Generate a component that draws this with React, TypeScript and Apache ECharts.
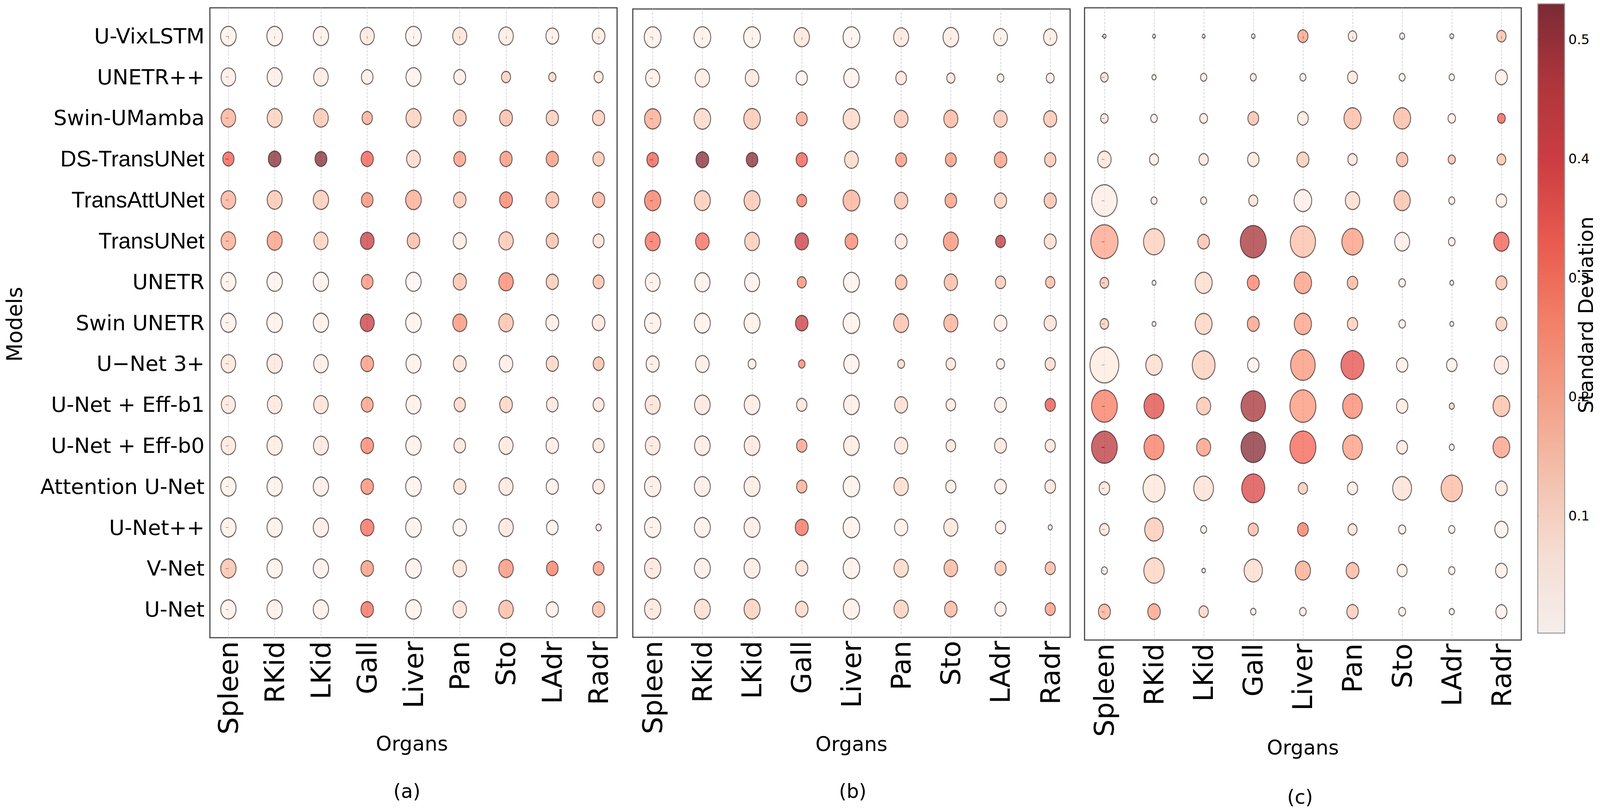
import React, { useEffect, useRef } from "react";
import * as echarts from "echarts";

// Models listed top-to-bottom as shown on the y axis
const MODELS = [
  "U-VixLSTM",
  "UNETR++",
  "Swin-UMamba",
  "DS-TransUNet",
  "TransAttUNet",
  "TransUNet",
  "UNETR",
  "Swin UNETR",
  "U\u2212Net 3+",
  "U-Net + Eff-b1",
  "U-Net + Eff-b0",
  "Attention U-Net",
  "U-Net++",
  "V-Net",
  "U-Net",
];
const ARIAL_LABELS = ["DS-TransUNet", "TransAttUNet", "TransUNet"];
const ORGANS = ["Spleen", "RKid", "LKid", "Gall", "Liver", "Pan", "Sto", "LAdr", "Radr"];
const PANEL_LABELS = ["(a)", "(b)", "(c)"];
const STD_TICKS = [0.1, 0.2, 0.3, 0.4, 0.5];
const STD_MIN = 0.0016;
const STD_MAX = 0.53;

// Panel (a): standard deviation (colour) and bubble magnitude (size)
const A_STD = [
  [0.03, 0.03, 0.03, 0.06, 0.02, 0.08, 0.05, 0.03, 0.05],
  [0.04, 0.04, 0.05, 0.03, 0.02, 0.04, 0.12, 0.1, 0.07],
  [0.18, 0.12, 0.14, 0.19, 0.12, 0.14, 0.16, 0.13, 0.13],
  [0.33, 0.52, 0.52, 0.33, 0.1, 0.22, 0.24, 0.23, 0.14],
  [0.18, 0.14, 0.13, 0.25, 0.19, 0.14, 0.27, 0.16, 0.18],
  [0.19, 0.22, 0.12, 0.42, 0.16, 0.05, 0.14, 0.15, 0.08],
  [0.03, 0.02, 0.02, 0.24, 0.01, 0.15, 0.26, 0.13, 0.15],
  [0.03, 0.03, 0.03, 0.42, 0.02, 0.24, 0.15, 0.04, 0.07],
  [0.07, 0.06, 0.04, 0.23, 0.03, 0.08, 0.04, 0.11, 0.15],
  [0.06, 0.06, 0.08, 0.22, 0.03, 0.1, 0.11, 0.06, 0.06],
  [0.06, 0.05, 0.06, 0.27, 0.03, 0.07, 0.06, 0.04, 0.07],
  [0.03, 0.03, 0.04, 0.25, 0.02, 0.08, 0.06, 0.03, 0.07],
  [0.03, 0.03, 0.04, 0.31, 0.02, 0.02, 0.06, 0.02, 0.03],
  [0.15, 0.03, 0.03, 0.23, 0.02, 0.08, 0.24, 0.28, 0.22],
  [0.03, 0.03, 0.03, 0.31, 0.02, 0.08, 0.16, 0.03, 0.16],
];
const A_SIZE = [
  [50, 50, 49, 45, 50, 45, 46.5, 41, 40.5],
  [46.5, 48, 46.5, 37, 48, 38, 29, 23, 29],
  [46.5, 48, 47, 33, 48, 41, 41, 39, 39],
  [36, 40.5, 38, 39, 44, 38, 39, 39, 36],
  [47, 48, 49, 37, 50, 40, 41, 41, 39],
  [46.5, 48, 45, 44, 40, 42, 46.5, 39, 35],
  [48, 49, 49, 37, 49, 42, 46.5, 39, 35],
  [49, 50, 49, 45, 50, 45, 46.5, 41, 40.5],
  [46.5, 49, 46.5, 40.5, 48, 41, 43, 39, 34.5],
  [45, 46.5, 46.5, 38, 48, 36, 40.5, 37, 35],
  [46.5, 49, 48, 40.5, 49, 37, 45, 40, 36],
  [49, 49, 49, 40, 50, 39, 45, 39, 37],
  [49, 49, 49, 43, 50, 43, 46.5, 37, 17],
  [49, 49, 49, 40, 50, 43, 46.5, 37, 34.5],
  [49, 49, 49, 40, 50, 43, 46.5, 39, 39],
];

// Panel (b)
const B_STD = [
  [0.03, 0.03, 0.03, 0.07, 0.02, 0.06, 0.05, 0.03, 0.05],
  [0.03, 0.05, 0.06, 0.02, 0.02, 0.07, 0.07, 0.03, 0.04],
  [0.19, 0.1, 0.14, 0.2, 0.1, 0.14, 0.17, 0.14, 0.14],
  [0.33, 0.52, 0.52, 0.33, 0.1, 0.23, 0.23, 0.22, 0.14],
  [0.28, 0.13, 0.14, 0.29, 0.18, 0.15, 0.22, 0.12, 0.15],
  [0.3, 0.31, 0.13, 0.42, 0.26, 0.06, 0.24, 0.45, 0.09],
  [0.03, 0.03, 0.02, 0.25, 0.02, 0.16, 0.16, 0.13, 0.16],
  [0.03, 0.03, 0.03, 0.42, 0.02, 0.15, 0.18, 0.04, 0.08],
  [0.04, 0.04, 0.04, 0.26, 0.02, 0.09, 0.07, 0.04, 0.09],
  [0.08, 0.06, 0.05, 0.07, 0.04, 0.09, 0.05, 0.04, 0.35],
  [0.06, 0.05, 0.06, 0.21, 0.05, 0.07, 0.06, 0.07, 0.07],
  [0.04, 0.04, 0.05, 0.19, 0.03, 0.09, 0.04, 0.04, 0.07],
  [0.03, 0.03, 0.04, 0.3, 0.02, 0.03, 0.07, 0.04, 0.03],
  [0.06, 0.04, 0.05, 0.08, 0.03, 0.1, 0.17, 0.15, 0.16],
  [0.07, 0.09, 0.12, 0.1, 0.03, 0.12, 0.17, 0.04, 0.22],
];
const B_SIZE = [
  [53.6, 53.6, 53.6, 49, 53.6, 48, 50, 44, 42.5],
  [45, 46, 43.5, 36, 49, 34, 26, 21, 25],
  [52, 53, 53, 35, 53, 44, 45, 42.5, 41.6],
  [37, 40.7, 37, 36, 44, 35, 35, 40, 36],
  [52, 51, 51, 31.4, 53.6, 42.5, 37, 39, 39],
  [48, 43.5, 47, 43.5, 40.7, 38, 48, 31.4, 38],
  [47, 49, 48, 28.7, 51, 37, 42.5, 32.4, 29.6],
  [52, 51, 51, 40, 53, 48, 45, 40.7, 39],
  [41.6, 43.5, 25, 21, 49, 22, 30.5, 26, 32.4],
  [48, 50, 50, 33, 50, 41.6, 30.5, 38, 33],
  [47, 50, 50, 33, 50, 42.5, 30.5, 38, 32.4],
  [52, 51, 51, 33, 53, 46, 32.4, 37, 34],
  [52, 51, 51, 41.6, 53, 42.5, 45, 32.4, 13],
  [52, 51, 51, 39, 53, 46, 43.5, 36, 32.4],
  [52, 51, 51, 40, 52, 46, 40, 36, 32.4],
];

// Panel (c)
const C_STD = [
  [0.02, 0.02, 0.02, 0.02, 0.21, 0.06, 0.02, 0.02, 0.15],
  [0.08, 0.02, 0.04, 0.06, 0.03, 0.06, 0.03, 0.03, 0.03],
  [0.06, 0.03, 0.05, 0.15, 0.05, 0.16, 0.16, 0.03, 0.33],
  [0.07, 0.04, 0.06, 0.06, 0.13, 0.07, 0.17, 0.15, 0.14],
  [0.04, 0.04, 0.04, 0.08, 0.04, 0.09, 0.15, 0.03, 0.03],
  [0.2, 0.12, 0.15, 0.48, 0.15, 0.22, 0.04, 0.03, 0.33],
  [0.14, 0.02, 0.09, 0.27, 0.22, 0.17, 0.03, 0.02, 0.15],
  [0.12, 0.02, 0.11, 0.21, 0.21, 0.12, 0.03, 0.02, 0.12],
  [0.05, 0.09, 0.12, 0.02, 0.23, 0.36, 0.03, 0.03, 0.06],
  [0.28, 0.37, 0.14, 0.48, 0.23, 0.26, 0.05, 0.1, 0.15],
  [0.45, 0.28, 0.22, 0.52, 0.32, 0.22, 0.05, 0.03, 0.21],
  [0.06, 0.07, 0.08, 0.38, 0.13, 0.04, 0.08, 0.16, 0.06],
  [0.07, 0.13, 0.02, 0.16, 0.28, 0.08, 0.03, 0.02, 0.02],
  [0.02, 0.11, 0.02, 0.09, 0.19, 0.17, 0.03, 0.02, 0.03],
  [0.18, 0.21, 0.11, 0.03, 0.03, 0.13, 0.02, 0.02, 0.03],
];
const C_SIZE = [
  [10.5, 9.6, 9.6, 11.5, 32.5, 27, 16, 12.4, 29.6],
  [24, 13.4, 20, 19, 19, 31.6, 19, 17, 38],
  [24, 21, 25, 34.4, 34.4, 54.5, 54.5, 24, 25],
  [43, 28.7, 29.7, 36.4, 38.3, 29.7, 36.4, 23, 27.7],
  [81.3, 19, 19, 28.7, 56.4, 46, 51.7, 19, 33.5],
  [87, 67, 37.3, 83, 80.4, 68, 47.8, 21, 48.8],
  [27.7, 12.4, 54.5, 38.3, 55.5, 33.5, 21, 12.4, 35.4],
  [27, 12.4, 54, 38, 55, 33, 21, 12.4, 35],
  [92, 52.6, 72.7, 36.4, 78.4, 73.7, 36.4, 33.5, 46],
  [82.3, 64, 45, 78.4, 83, 63, 36.4, 16, 53.6],
  [82.3, 64, 45, 78.4, 83, 63, 34.4, 16, 53.6],
  [33.5, 70, 63, 73.7, 29.7, 32.5, 60.3, 68, 37.3],
  [30.6, 59.3, 19, 32.5, 34.4, 28.7, 23, 20, 42],
  [19, 65, 11.5, 58.4, 48.8, 41, 31.6, 20, 37.3],
  [38.3, 40, 29.7, 17, 21, 36.4, 22, 16, 35.4],
];

const PANEL_STD = [A_STD, B_STD, C_STD];
const PANEL_SIZE = [A_SIZE, B_SIZE, C_SIZE];

// matplotlib "Reds" with alpha 0.8
const REDS = [
  "rgba(255,245,240,0.8)",
  "rgba(254,224,210,0.8)",
  "rgba(252,187,161,0.8)",
  "rgba(252,146,114,0.8)",
  "rgba(251,106,74,0.8)",
  "rgba(239,59,44,0.8)",
  "rgba(203,24,29,0.8)",
  "rgba(165,15,21,0.8)",
  "rgba(103,0,13,0.8)",
];

const FONT = "DejaVu Sans";
const REF_W = 5100;
const REF_H = 2073;

export default function App() {
  const ref = useRef<HTMLDivElement>(null);

  useEffect(() => {
    if (!ref.current) return;
    document.body.style.overflow = "hidden";
    const chart = echarts.init(ref.current, null, { renderer: "svg" });
    const W = chart.getWidth() || REF_W;
    const H = chart.getHeight() || REF_H;
    const sx = W / REF_W;
    const sy = H / REF_H;
    const fh = Math.pow(sx, 0.7) * Math.pow(sy, 0.3); // horizontal text scale
    const X = (v: number) => v * sx;
    const Y = (v: number) => v * sy;

    const grids = [
      { left: X(669), top: Y(20), width: X(1298), height: Y(1612) },
      { left: X(2017), top: Y(23), width: X(1394), height: Y(1608) },
      { left: X(3457), top: Y(20), width: X(1392), height: Y(1618) },
    ];
    const organIdx = ORGANS.map((_, k) => k);
    const modelIdx = MODELS.map((_, k) => k);

    const gridOpts: any[] = grids.map((g) => ({
      ...g,
      show: true,
      borderColor: "#4a4a4a",
      borderWidth: 3,
      backgroundColor: "transparent",
      containLabel: false,
    }));
    // colorbar frame
    gridOpts.push({
      left: X(4902),
      top: Y(10),
      width: X(85),
      height: Y(1610),
      show: true,
      borderColor: "#999",
      borderWidth: 3,
      backgroundColor: "transparent",
    });

    const xAxes: any[] = grids.map((_, i) => ({
      type: "value",
      gridIndex: i,
      min: -0.4,
      max: 8.4,
      axisLine: { show: false },
      splitLine: {
        show: true,
        lineStyle: { type: "dashed", color: "#cccccc", width: 1.5 },
      },
      axisTick: {
        show: true,
        customValues: organIdx,
        length: 7,
        lineStyle: { color: "#333", width: 2 },
      },
      axisLabel: {
        customValues: organIdx,
        formatter: (v: number) => ORGANS[Math.round(v)] ?? "",
        rotate: 90,
        fontSize: 70 * sy,
        fontFamily: FONT,
        color: "#000",
        margin: Y(9),
      },
    }));
    xAxes.push({ type: "value", gridIndex: 3, show: false, min: 0, max: 1 });

    const yAxes: any[] = grids.map((_, i) => ({
      type: "value",
      gridIndex: i,
      min: -0.69,
      max: 14.69,
      inverse: true,
      axisLine: { show: false },
      splitLine: { show: false },
      axisTick: {
        show: true,
        customValues: modelIdx,
        length: 7,
        lineStyle: { color: "#333", width: 2 },
      },
      axisLabel: {
        show: i === 0,
        customValues: modelIdx,
        margin: 16 * fh,
        formatter: (v: number) => {
          const name = MODELS[Math.round(v)] ?? "";
          return ARIAL_LABELS.includes(name) ? `{l|${name}}` : `{d|${name}}`;
        },
        rich: {
          d: { fontSize: 63 * fh, fontFamily: FONT, color: "#000" },
          l: { fontSize: 66 * fh, fontFamily: "Liberation Sans", color: "#000" },
        },
      },
    }));
    yAxes.push({
      type: "value",
      gridIndex: 3,
      position: "right",
      min: STD_MIN,
      max: STD_MAX,
      axisLine: { show: false },
      splitLine: { show: false },
      axisTick: {
        show: true,
        customValues: STD_TICKS,
        length: 8,
        lineStyle: { color: "#555", width: 2 },
      },
      axisLabel: {
        customValues: STD_TICKS,
        formatter: (v: number) => v.toFixed(1),
        fontSize: 40 * fh,
        fontFamily: FONT,
        color: "#000",
        margin: X(12),
      },
    });

    const series: any[] = grids.map((_, i) => {
      const stds = PANEL_STD[i];
      const sizes = PANEL_SIZE[i];
      const data: number[][] = [];
      MODELS.forEach((_m, r) => {
        ORGANS.forEach((_o, c) => {
          data.push([c, r, stds[r][c], sizes[r][c]]);
        });
      });
      return {
        type: "scatter",
        xAxisIndex: i,
        yAxisIndex: i,
        z: 3,
        data,
        symbol: "circle",
        symbolSize: (v: number[]) => [v[3] * sx, v[3] * sy],
        itemStyle: { borderColor: "rgba(45,30,30,0.85)", borderWidth: 2.5 },
      };
    });

    const titleText = (text: string, x: number, y: number, size: number, rotation = 0) => ({
      type: "text",
      x,
      y,
      rotation,
      style: {
        text,
        fontSize: size,
        fontFamily: FONT,
        fill: "#000",
        textAlign: "center",
        textVerticalAlign: "middle",
        align: "center",
        verticalAlign: "middle",
      },
    });

    const organsCenters = [
      [1313, 1903],
      [2714, 1904],
      [4153, 1913],
    ];
    const panelCenters = [
      [1297, 2025],
      [2718, 2025],
      [4144, 2040],
    ];

    // keep the rotated colour-bar title inside the page
    const sdSize = Math.min(62 * sy, 58 * Math.max(sx, 0.9));
    const sdX = Math.min(X(5055), W - sdSize * 0.62);

    const graphic: any[] = [
      titleText("Models", X(47), Y(830), 58 * Math.min(sy, fh + 0.08), Math.PI / 2),
      titleText("Standard Deviation", sdX, Y(806), sdSize, Math.PI / 2),
      ...organsCenters.map(([x, y]) => titleText("Organs", X(x), Y(y), 60 * fh)),
      ...panelCenters.map(([x, y], i) => titleText(PANEL_LABELS[i], X(x), Y(y), 58 * fh)),
    ];

    chart.setOption({
      animation: false,
      backgroundColor: "#fff",
      textStyle: { fontFamily: FONT },
      grid: gridOpts,
      xAxis: xAxes,
      yAxis: yAxes,
      visualMap: {
        type: "continuous",
        min: STD_MIN,
        max: STD_MAX,
        dimension: 2,
        seriesIndex: [0, 1, 2],
        inRange: { color: REDS },
        orient: "vertical",
        left: X(4903),
        top: Y(11),
        itemWidth: X(83),
        itemHeight: Y(1608),
        padding: 0,
        calculable: false,
        hoverLink: false,
      },
      graphic,
      series,
    });

    return () => chart.dispose();
  }, []);

  return (
    <div
      ref={ref}
      style={{ position: "absolute", left: 0, top: 0, width: "100vw", height: "100vh", background: "#fff" }}
    />
  );
}
